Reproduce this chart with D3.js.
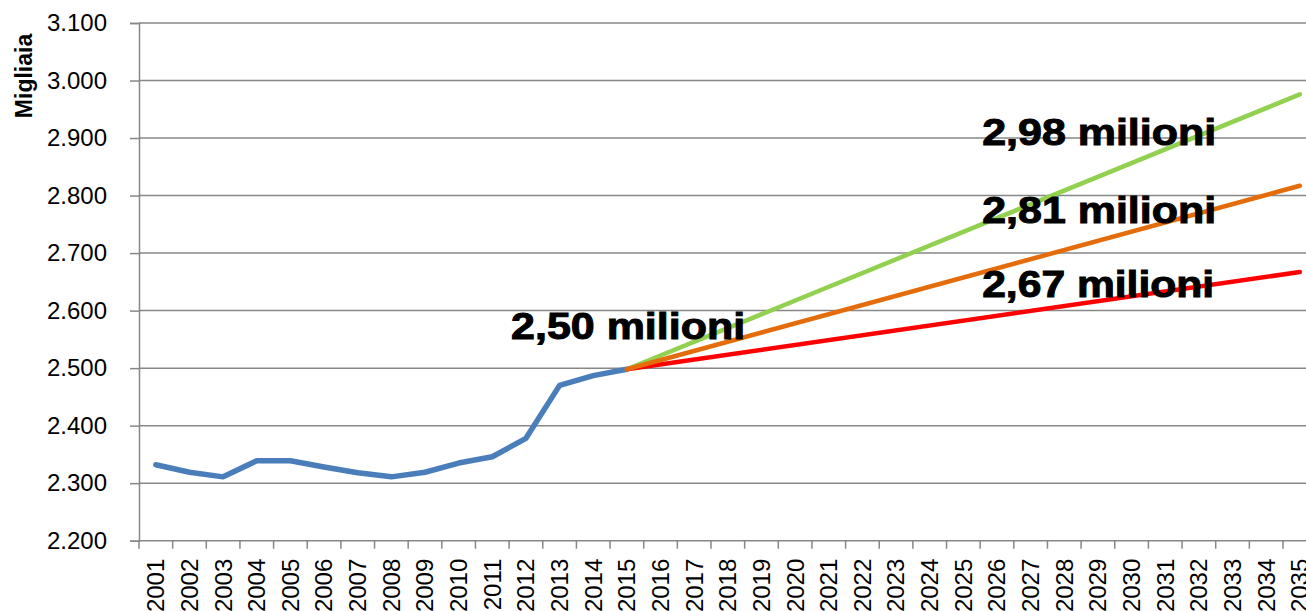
<!DOCTYPE html>
<html>
<head>
<meta charset="utf-8">
<script src="https://cdn.jsdelivr.net/npm/d3@7"></script>
<style>
  body { margin: 0; background: #fff; overflow: hidden; }
  svg { display: block; }
</style>
</head>
<body>
<script>
// Data (thousands of people)
const years = d3.range(2001, 2036).map(String);
const histYears = ["2001", "2002", "2003", "2004", "2005", "2006", "2007", "2008",
                   "2009", "2010", "2011", "2012", "2013", "2014", "2015"];
const histValues = [2332, 2319, 2311, 2339, 2339, 2328, 2318, 2311,
                    2319, 2335, 2346, 2378, 2470, 2487, 2498];
const projYears = ["2015", "2035"];
const projHigh = [2498, 2976];
const projMid = [2498, 2817];
const projLow = [2498, 2667];
const yTicks = [2200, 2300, 2400, 2500, 2600, 2700, 2800, 2900, 3000, 3100];
const labels = [
  { text: "2,98 milioni", year: "2026", value: 2888, len: 234 },
  { text: "2,81 milioni", year: "2026", value: 2752, len: 234 },
  { text: "2,67 milioni", year: "2026", value: 2624, len: 232 },
  { text: "2,50 milioni", year: "2012", value: 2551, len: 234 }
];

const width = 1306;
const height = 611;
const margin = { top: 23, left: 139, bottom: 70 };
const step = 33.647;

const svg = d3.select("body").append("svg")
  .attr("width", width)
  .attr("height", height);

const x = d3.scaleBand()
  .domain(years)
  .range([margin.left, margin.left + step * years.length]);

const y = d3.scaleLinear()
  .domain([2200, 3100])
  .range([height - margin.bottom - 0.3, margin.top]);

const fmt = d => d3.format(",")(d).replace(",", ".");

// Gridlines
svg.append("g")
  .selectAll("line")
  .data(yTicks.slice(1))
  .join("line")
  .attr("x1", margin.left)
  .attr("x2", x.range()[1])
  .attr("y1", d => y(d))
  .attr("y2", d => y(d))
  .attr("stroke", "#878787")
  .attr("stroke-width", 1.5);

// Y axis
const yAxis = svg.append("g")
  .attr("transform", `translate(${margin.left},0)`)
  .call(d3.axisLeft(y).tickValues(yTicks).tickSize(9).tickPadding(23).tickFormat(fmt));
yAxis.select(".domain").attr("stroke", "#878787").attr("stroke-width", 1.5);
yAxis.selectAll(".tick line").attr("stroke", "#878787").attr("stroke-width", 1.5);
yAxis.selectAll("text")
  .attr("font-family", "Liberation Sans, Arial, sans-serif")
  .attr("font-size", "24px")
  .attr("fill", "#000");

// X axis (ticks between categories)
const xAxis = svg.append("g")
  .attr("transform", `translate(0,${y(2200)})`);
xAxis.append("line")
  .attr("x1", margin.left)
  .attr("x2", x.range()[1])
  .attr("stroke", "#878787")
  .attr("stroke-width", 1.5);
xAxis.selectAll(".tk")
  .data(years)
  .join("line")
  .attr("class", "tk")
  .attr("x1", d => x(d))
  .attr("x2", d => x(d))
  .attr("y1", 0)
  .attr("y2", 8)
  .attr("stroke", "#878787")
  .attr("stroke-width", 1.5);
xAxis.selectAll("text")
  .data(years)
  .join("text")
  .attr("transform", d => `translate(${x(d) + x.bandwidth() / 2},18) rotate(-90)`)
  .attr("text-anchor", "end")
  .attr("dy", "0.35em")
  .attr("font-family", "Liberation Sans, Arial, sans-serif")
  .attr("font-size", "24px")
  .attr("fill", "#000")
  .text(d => d);

// Y axis title
svg.append("text")
  .attr("transform", "translate(32,76) rotate(-90)")
  .attr("text-anchor", "middle")
  .attr("font-family", "Liberation Sans, Arial, sans-serif")
  .attr("font-weight", "bold")
  .attr("font-size", "23px")
  .attr("fill", "#000")
  .text("Migliaia");

// Lines
const line = d3.line()
  .x(d => x(d[0]) + x.bandwidth() / 2)
  .y(d => y(d[1]));

const series = [
  { years: histYears, values: histValues, color: "#4a7ebb", w: 5.5 },
  { years: projYears, values: projHigh, color: "#92d050", w: 4.5 },
  { years: projYears, values: projLow, color: "#ff0000", w: 4.5 },
  { years: projYears, values: projMid, color: "#e46c0a", w: 4.5 }
];

svg.append("g")
  .selectAll("path")
  .data(series)
  .join("path")
  .attr("d", s => line(d3.zip(s.years, s.values)))
  .attr("fill", "none")
  .attr("stroke", s => s.color)
  .attr("stroke-width", s => s.w)
  .attr("stroke-linecap", "round")
  .attr("stroke-linejoin", "round");

// Value labels
svg.append("g")
  .selectAll("text")
  .data(labels)
  .join("text")
  .attr("x", d => x(d.year) + 2)
  .attr("y", d => y(d.value))
  .attr("font-family", "Liberation Sans, Arial, sans-serif")
  .attr("font-weight", "bold")
  .attr("font-size", "37px")
  .attr("fill", "#000")
  .attr("stroke", "#000")
  .attr("stroke-width", 1)
  .attr("textLength", d => d.len)
  .attr("lengthAdjust", "spacingAndGlyphs")
  .text(d => d.text);
</script>
</body>
</html>
